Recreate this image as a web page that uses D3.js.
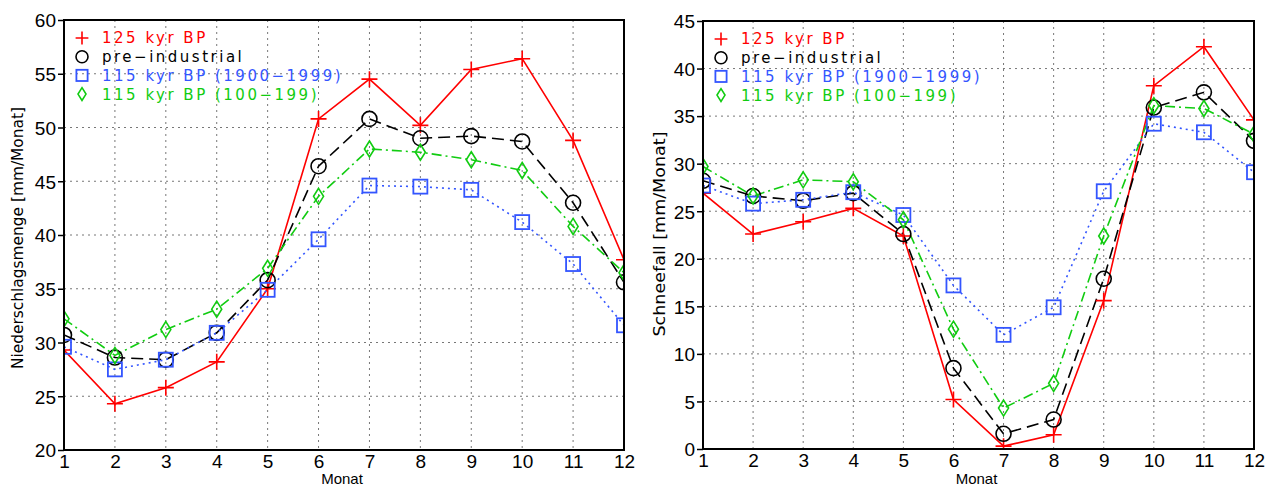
<!DOCTYPE html>
<html>
<head>
<meta charset="utf-8" />
<title>Niederschlag und Schneefall</title>
<script src="https://cdnjs.cloudflare.com/ajax/libs/d3/7.8.5/d3.min.js"></script>
<style>
  body { margin: 0; padding: 0; background: #fff; }
  svg { display: block; }
  .tick-lbl { font-family: "Liberation Sans Narrow", "Liberation Sans", sans-serif; font-size: 19px; fill: #000; }
  .ax-title { font-family: "DejaVu Sans", sans-serif; font-size: 15px; fill: #000; }
  .leg { font-family: "DejaVu Sans", sans-serif; font-size: 15px; letter-spacing: 2.5px; }
</style>
</head>
<body>
<div id="chart"></div>
<script>
// months on the x axis
var months = [1, 2, 3, 4, 5, 6, 7, 8, 9, 10, 11, 12];

// series names (legend)
var seriesNames = ["125 kyr BP", "pre\u2212industrial", "115 kyr BP (1900\u22121999)", "115 kyr BP (100\u2212199)"];

// left panel: Niederschlagsmenge [mm/Monat]
var precip125 = [29.3, 24.3, 25.8, 28.2, 35.0, 50.8, 54.5, 50.2, 55.4, 56.4, 48.8, 37.7];
var precipPI  = [30.7, 28.6, 28.4, 30.9, 35.8, 46.4, 50.8, 49.0, 49.2, 48.7, 43.0, 35.6];
var precip115a = [29.6, 27.5, 28.4, 30.9, 34.9, 39.6, 44.6, 44.5, 44.2, 41.2, 37.3, 31.6];
var precip115b = [32.2, 28.8, 31.2, 33.1, 36.9, 43.6, 48.0, 47.7, 47.0, 46.0, 40.8, 36.5];

// right panel: Schneefall [mm/Monat]
var snow125 = [26.9, 22.6, 23.9, 25.3, 22.4, 5.2, 0.3, 1.5, 15.6, 38.2, 42.3, 34.6];
var snowPI  = [28.2, 26.6, 26.1, 26.9, 22.6, 8.5, 1.6, 3.1, 17.9, 35.9, 37.5, 32.4];
var snow115a = [27.7, 25.8, 26.2, 27.0, 24.6, 17.2, 12.0, 14.9, 27.1, 34.2, 33.3, 29.1];
var snow115b = [29.7, 26.6, 28.3, 28.1, 24.1, 12.6, 4.3, 6.9, 22.4, 36.1, 35.8, 33.1];

var yTicksLeft = [20, 25, 30, 35, 40, 45, 50, 55, 60];
var yTicksRight = [0, 5, 10, 15, 20, 25, 30, 35, 40, 45];

var styles = [
  { color: "#ff0000", dash: null,          marker: "plus" },
  { color: "#000000", dash: "12,6",        marker: "circle" },
  { color: "#3355ff", dash: "2,4",         marker: "square" },
  { color: "#11cc11", dash: "10,4,2,4",    marker: "diamond" }
];

var W = 1271, H = 486;
var svg = d3.select("#chart").append("svg").attr("width", W).attr("height", H);

function drawMarker(g, type, x, y, color, s) {
  if (type == "plus") {
    g.append("path").attr("d", "M" + (x - 8 * s) + "," + y + "H" + (x + 8 * s) + "M" + x + "," + (y - 8 * s) + "V" + (y + 8 * s))
      .attr("stroke", color).attr("stroke-width", 1.6).attr("fill", "none");
  } else if (type == "circle") {
    g.append("circle").attr("cx", x).attr("cy", y).attr("r", 7.5 * s)
      .attr("stroke", color).attr("stroke-width", 1.6).attr("fill", "none");
  } else if (type == "square") {
    g.append("rect").attr("x", x - 7 * s).attr("y", y - 7 * s).attr("width", 14 * s).attr("height", 14 * s)
      .attr("stroke", color).attr("stroke-width", 1.8).attr("fill", "none");
  } else {
    g.append("path").attr("d", "M" + x + "," + (y - 8 * s) + "L" + (x + 5 * s) + "," + y + "L" + x + "," + (y + 8 * s) + "L" + (x - 5 * s) + "," + y + "Z")
      .attr("stroke", color).attr("stroke-width", 1.6).attr("fill", "none");
  }
}

function panel(id, box, yDomain, yTicks, data, ytitle, ytitleX, ytitleY, ytitleLen) {
  var x = d3.scaleLinear().domain([1, 12]).range([box.x0, box.x1]);
  var y = d3.scaleLinear().domain(yDomain).range([box.y1, box.y0]);
  var g = svg.append("g");

  svg.append("defs").append("clipPath").attr("id", "clip" + id)
    .append("rect").attr("x", box.x0).attr("y", box.y0)
    .attr("width", box.x1 - box.x0).attr("height", box.y1 - box.y0);

  // dotted grid
  g.selectAll(".gx").data(months.slice(1, 11)).enter().append("line")
    .attr("x1", d => x(d)).attr("x2", d => x(d)).attr("y1", box.y0).attr("y2", box.y1)
    .attr("stroke", "#777").attr("stroke-width", 1).attr("stroke-dasharray", "2,4");
  g.selectAll(".gy").data(yTicks.slice(1, yTicks.length - 1)).enter().append("line")
    .attr("y1", d => y(d)).attr("y2", d => y(d)).attr("x1", box.x0).attr("x2", box.x1)
    .attr("stroke", "#777").attr("stroke-width", 1).attr("stroke-dasharray", "2,4");

  // axes via d3
  var ya = d3.axisLeft(y).tickValues(yTicks).tickSize(6).tickSizeOuter(0).tickPadding(2);
  var yg = g.append("g").attr("transform", "translate(" + box.x0 + ",0)").call(ya);
  yg.select(".domain").remove();
  yg.selectAll("text").attr("class", "tick-lbl").attr("dy", "0.36em");
  yg.selectAll("line").attr("stroke", "#000").attr("stroke-width", 1.5);

  var xa = d3.axisBottom(x).tickValues(months).tickSize(0).tickPadding(5);
  var xg = g.append("g").attr("transform", "translate(0," + box.y1 + ")").call(xa);
  xg.select(".domain").remove();
  xg.selectAll("text").attr("class", "tick-lbl").attr("dy", "0.71em");

  // series
  var pg = g.append("g").attr("clip-path", "url(#clip" + id + ")");
  var line = d3.line().x((d, i) => x(months[i])).y(d => y(d));
  data.forEach(function (vals, k) {
    var st = styles[k];
    pg.append("path").attr("d", line(vals)).attr("fill", "none")
      .attr("stroke", st.color).attr("stroke-width", 1.6)
      .attr("stroke-dasharray", st.dash);
  });
  data.forEach(function (vals, k) {
    var st = styles[k];
    vals.forEach(function (v, i) { drawMarker(pg, st.marker, x(months[i]), y(v), st.color, 1); });
  });

  // frame
  g.append("rect").attr("x", box.x0).attr("y", box.y0)
    .attr("width", box.x1 - box.x0).attr("height", box.y1 - box.y0)
    .attr("fill", "none").attr("stroke", "#000").attr("stroke-width", 2);

  // legend
  seriesNames.forEach(function (name, k) {
    var ly = box.y0 + 18 + k * 18.7;
    drawMarker(g, styles[k].marker, box.x0 + 18, ly, styles[k].color, 0.8);
    g.append("text").attr("class", "leg").attr("x", box.x0 + 38).attr("y", ly).attr("dy", "0.36em")
      .attr("fill", styles[k].color).text(name);
  });

  // titles
  g.append("text").attr("class", "ax-title").attr("text-anchor", "middle")
    .attr("transform", "translate(" + ytitleX + "," + ytitleY + ") rotate(-90)")
    .attr("textLength", ytitleLen).attr("lengthAdjust", "spacingAndGlyphs").text(ytitle);
  g.append("text").attr("class", "ax-title").attr("text-anchor", "middle")
    .attr("x", (box.x0 + box.x1) / 2 - 2).attr("y", 484)
    .style("font-family", "'Liberation Sans Narrow', 'Liberation Sans', sans-serif").style("font-size", "15px")
    .text("Monat");
}

panel("L", { x0: 64, x1: 624, y0: 20, y1: 450 }, [20, 60], yTicksLeft,
  [precip125, precipPI, precip115a, precip115b], "Niederschlagsmenge [mm/Monat]", 23, 238, 262);
panel("R", { x0: 703, x1: 1254, y0: 21, y1: 449 }, [0, 45], yTicksRight,
  [snow125, snowPI, snow115a, snow115b], "Schneefall [mm/Monat]", 665, 234, 205);
</script>
</body>
</html>
